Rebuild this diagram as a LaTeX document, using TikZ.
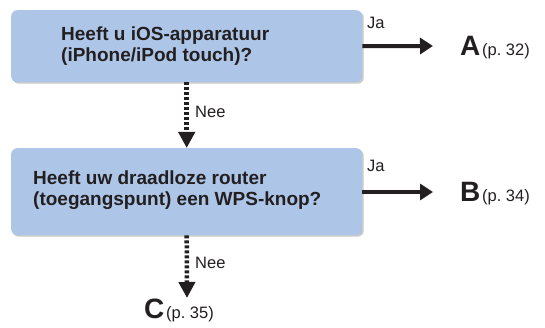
\documentclass[tikz,border=0pt]{standalone}
\usepackage{fontspec}
\setmainfont{Liberation Sans}
\usetikzlibrary{arrows.meta,shadows}
\definecolor{boxblue}{RGB}{173,198,232}
\definecolor{ink}{RGB}{35,31,32}
\tikzset{
  qbox/.style={draw=none, fill=boxblue, rounded corners=6pt, anchor=north west,
    drop shadow={shadow xshift=1.5pt, shadow yshift=-1.5pt, fill=black!35, opacity=0.6}},
  qtext/.style={anchor=west, align=left, inner sep=0pt, text=ink,
    font=\bfseries\fontsize{19}{21.5}\selectfont},
  yesarrow/.style={draw=ink, line width=4pt, -{Triangle[length=13pt,width=16pt]}},
  noarrow/.style={draw=ink, line width=4.5pt, dash pattern=on 3pt off 2pt,
    -{Triangle[length=16pt,width=16pt]}},
  lbl/.style={inner sep=0pt, text=ink, font=\fontsize{16.5}{18}\selectfont},
  dest/.style={inner sep=0pt, anchor=base west, text=ink}
}
\newcommand{\destlabel}[2]{{\bfseries\fontsize{28}{28}\selectfont #1}\,{\fontsize{16.5}{16.5}\selectfont (p.~#2)}}
\begin{document}
\begin{tikzpicture}[x=1pt,y=-1pt]
\useasboundingbox (0,0) rectangle (545,328);
% boxes
\node[qbox, minimum width=351pt, minimum height=72pt] (q1) at (11,10) {};
\node[qbox, minimum width=351pt, minimum height=87pt] (q2) at (11,148) {};
\node[qtext] (t1) at (61,46) {Heeft u iOS-apparatuur\\(iPhone/iPod touch)?};
\node[qtext] (t2) at (33,190) {Heeft uw draadloze router\\(toegangspunt) een WPS-knop?};
% destinations
\node[dest] (A) at (460,56) {\destlabel{A}{32}};
\node[dest] (B) at (460,202) {\destlabel{B}{34}};
\node[dest] (C) at (144,318) {\destlabel{C}{35}};
\coordinate (tipA) at (433,46);
\coordinate (tipB) at (433,192);
\coordinate (tipC) at (187,298);
% arrows
\draw[yesarrow] (q1.east) -- (tipA);
\draw[yesarrow] (q2.east |- tipB) -- (tipB);
\draw[noarrow] (q1.south) -- (q2.north);
\draw[noarrow] (q2.south) -- (tipC);
% labels
\node[lbl, anchor=west] (ja1) at (367,23) {Ja};
\node[lbl, anchor=west] (ja2) at (367,166) {Ja};
\node[lbl, anchor=west] (nee1) at (195,112) {Nee};
\node[lbl, anchor=west] (nee2) at (195,263) {Nee};
\end{tikzpicture}
\end{document}
